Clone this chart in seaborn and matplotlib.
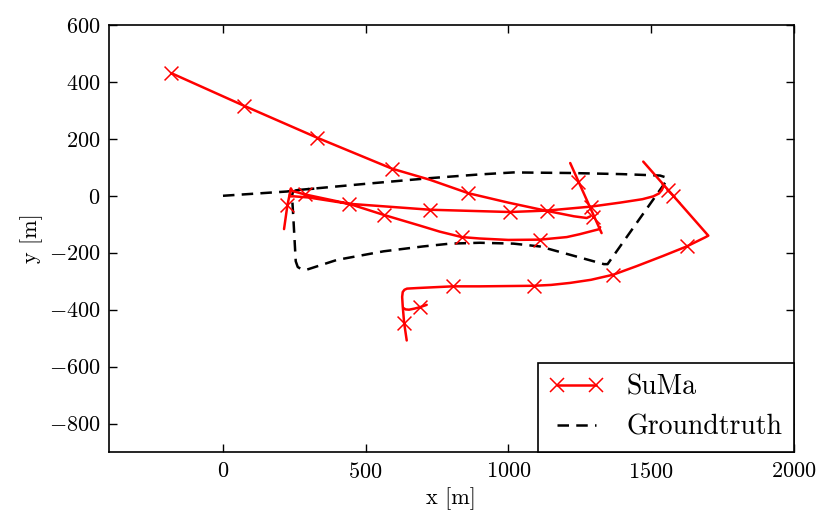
import numpy as np
import pandas as pd
import matplotlib
matplotlib.use("Agg")
import matplotlib.pyplot as plt
from matplotlib.lines import Line2D
import seaborn as sns

# ---------------- data ----------------
# SuMa estimate, drawn as several connected pieces
suma_a_x = [-182, 74, 330, 593, 726, 860, 1000, 1135, 1230, 1275, 1288]
suma_a_y = [431, 316, 204, 95, 56, 9, -24, -53, -72, -78, -72]

suma_s_x = [1217, 1327]
suma_s_y = [115, -131]

suma_c_x = [1322, 1316, 1300, 1250, 1205, 1111, 1000, 900, 837, 760, 691, 563, 441, 300, 250, 234,
            236, 238, 243, 286, 441, 726, 1006, 1135, 1290, 1392, 1470, 1508, 1528, 1538, 1546]
suma_c_y = [-110, -118, -122, -135, -145, -154, -155, -150, -145, -126, -105, -67, -28, -6, -2, -2,
            20, 26, 17, 5, -28, -49, -57, -52, -38, -24, -12, -2, 8, 20, 37]

suma_v_x = [214, 226, 234]
suma_v_y = [-117, -32, 6]

suma_b_x = [1473, 1701, 1690, 1625, 1543, 1450, 1368, 1290, 1216, 1150, 1090, 900, 805, 680, 645, 636, 630, 628, 630, 635, 644]
suma_b_y = [120, -140, -146, -178, -211, -247, -277, -295, -306, -313, -316, -318, -318, -324, -326, -330, -338, -355, -388, -447, -508]

suma_h_x = [632, 640, 652, 672, 691, 714]
suma_h_y = [-394, -399, -400, -396, -391, -383]

# positions of the "x" markers along the SuMa path
mark_x = [-182, 74, 330, 593, 860, 1135, 1246, 1290, 1298, 286, 441, 226, 563, 726,
          1006, 837, 1111, 1560, 1578, 1625, 1368, 1090, 805, 691, 635]
mark_y = [431, 316, 204, 95, 9, -53, 50, -38, -73, 5, -28, -32, -67, -49,
          -57, -145, -154, 21, 0, -178, -277, -316, -318, -391, -447]

# Groundtruth
gt_x = [0, 224, 271, 500, 726, 900, 1018, 1216, 1400, 1532, 1548, 1556, 1348, 1335,
        1252, 1111, 1018, 900, 796, 700, 563, 400, 329, 295, 275, 262, 255, 247, 242,
        245, 255, 271, 320]
gt_y = [0, 15, 21, 42, 62, 75, 82, 80, 76, 71, 66, 55, -240, -240,
        -217, -178, -168, -165, -168, -178, -195, -225, -248, -259, -258, -250, -230, -84, 0,
        13, 19, 21, 25]

xticks = [0, 500, 1000, 1500, 2000]
yticks = [-800, -600, -400, -200, 0, 200, 400, 600]

# ---------------- style ----------------
sns.set_style("ticks")
plt.rcParams.update({
    "font.family": "serif",
    "font.serif": ["cmr10"],
    "mathtext.fontset": "cm",
    "axes.formatter.use_mathtext": True,
    "axes.unicode_minus": True,
    "font.size": 16,
    "text.color": "black",
    "axes.labelcolor": "black",
    "axes.linewidth": 1.2,
    "axes.edgecolor": "black",
    "xtick.direction": "in",
    "ytick.direction": "in",
    "xtick.top": True,
    "ytick.right": True,
    "xtick.major.size": 6,
    "ytick.major.size": 6,
    "xtick.major.width": 1.0,
    "ytick.major.width": 1.0,
    "xtick.major.pad": 7,
    "ytick.major.pad": 6,
    "xtick.color": "black",
    "ytick.color": "black",
    "xtick.labelsize": 16,
    "ytick.labelsize": 16,
    "axes.labelsize": 16,
})

fig = plt.figure(figsize=(8.31, 5.30), dpi=100)
ax = fig.add_axes([0.131, 0.147, 0.955 - 0.131, 0.953 - 0.147])

pieces = [(suma_a_x, suma_a_y), (suma_s_x, suma_s_y), (suma_c_x, suma_c_y),
          (suma_v_x, suma_v_y), (suma_b_x, suma_b_y), (suma_h_x, suma_h_y)]
rows = []
for k, (xs, ys) in enumerate(pieces):
    for xv, yv in zip(xs, ys):
        rows.append({"x": xv, "y": yv, "seg": k})
suma_df = pd.DataFrame(rows)

gt_df = pd.DataFrame({"x": gt_x, "y": gt_y})

gt_dash = (0, (4.6, 2.9))
sns.lineplot(data=gt_df, x="x", y="y", sort=False, estimator=None, ax=ax,
             color="black", lw=1.8, linestyle=gt_dash, legend=False, zorder=2)
sns.lineplot(data=suma_df, x="x", y="y", units="seg", sort=False, estimator=None,
             ax=ax, color="red", lw=1.8, legend=False, zorder=3)
sns.scatterplot(x=mark_x, y=mark_y, ax=ax, marker="x", color="red", s=100,
                linewidth=1.1, legend=False, zorder=4)

ax.set_xlim(-400, 2000)
ax.set_ylim(-900, 600)
ax.set_xticks(xticks)
ax.set_yticks(yticks)
ax.set_xlabel("x [m]", color="black")
ax.set_ylabel("y [m]", color="black")
for sp in ax.spines.values():
    sp.set_visible(True)
    sp.set_linewidth(1.2)

handles = [
    Line2D([0], [0], color="red", lw=1.8, marker="x", ms=10, mew=1.1),
    Line2D([0], [0], color="black", lw=1.8, linestyle=gt_dash),
]
leg = ax.legend(handles, ["SuMa", "Groundtruth"], loc="lower right", borderaxespad=0,
                fancybox=False, framealpha=1, edgecolor="black", fontsize=20,
                numpoints=2, handlelength=2)
leg.get_frame().set_linewidth(1.2)
for t in leg.get_texts():
    t.set_color("black")

fig.savefig("out.png", dpi=100)
